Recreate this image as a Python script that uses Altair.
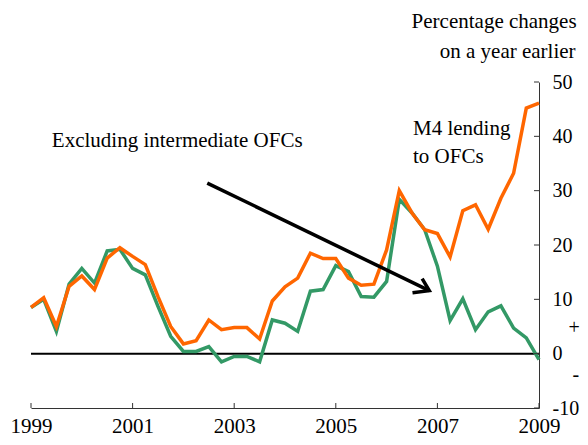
import altair as alt
import pandas as pd

# ---- data (quarterly, 1999 Q1 .. 2009 Q1) ----
start_year = 1999
m4_lending = [8.5, 10.3, 5.0, 12.4, 14.3, 11.8, 17.6, 19.5, 17.9, 16.4,
              10.5, 5.0, 1.8, 2.4, 6.2, 4.4, 4.8, 4.8, 2.7, 9.7,
              12.3, 13.9, 18.5, 17.5, 17.5, 13.9, 12.6, 12.8, 19.1, 30.0,
              25.9, 22.8, 22.1, 17.8, 26.3, 27.4, 22.9, 28.6, 33.2, 45.2, 46.1]
excl_intermediate = [8.5, 10.0, 4.1, 12.8, 15.7, 13.0, 18.9, 19.2, 15.7, 14.5,
                     8.7, 3.2, 0.4, 0.4, 1.3, -1.5, -0.5, -0.5, -1.5, 6.2,
                     5.6, 4.1, 11.5, 11.8, 16.2, 15.1, 10.5, 10.4, 13.3, 28.4,
                     25.9, 22.8, 16.1, 6.1, 10.1, 4.4, 7.7, 8.8, 4.7, 2.9, -1.1]
quarters = [start_year + i / 4 for i in range(len(m4_lending))]

x_ticks = [1999, 2001, 2003, 2005, 2007, 2009]
y_ticks = [-10, 0, 10, 20, 30, 40, 50]

# annotations (positions in data units)
ann_text = ["Excluding intermediate OFCs", "M4 lending", "to OFCs"]
ann_x = [1999.41, 2006.52, 2006.52]
ann_y = [39.1, 41.4, 36.2]

title_text = ["Percentage changes", "on a year earlier"]
title_x = [2009.74, 2009.72]
title_y = [61.0, 55.5]

stray_text = ["+", "-"]
stray_x = [2009.58, 2009.66]
stray_y = [4.7, -3.9]

arrow_x = [2002.47, 2006.84]
arrow_y = [31.4, 11.6]
head_x = [2006.51, 2006.84, 2006.70]
head_y = [11.2, 11.6, 13.8]

FONT = "Liberation Serif"

df_orange = pd.DataFrame({"x": quarters, "y": m4_lending})
df_green = pd.DataFrame({"x": quarters, "y": excl_intermediate})

xscale = alt.Scale(domain=[1999, 2009], nice=False, zero=False)
yscale = alt.Scale(domain=[-10, 50], nice=False, zero=False)
xaxis = alt.Axis(values=x_ticks, format="d", title=None, grid=False, ticks=False,
                 domainColor="#333", domainWidth=1, labelFont=FONT, labelFontSize=21,
                 labelColor="#000", labelPadding=7, labelFlush=False)
yaxis = alt.Axis(values=y_ticks, title=None, grid=False, ticks=False,
                 labelExpr="datum.value < 0 ? '-' + abs(datum.value) : '' + datum.value",
                 orient="right", domainColor="#333", domainWidth=1, labelFont=FONT,
                 labelFontSize=20, labelColor="#000", labelPadding=13, labelAlign="left")
X = alt.X("x:Q", scale=xscale, axis=xaxis)
Y = alt.Y("y:Q", scale=yscale, axis=yaxis)

zero = alt.Chart(pd.DataFrame({"x": [1999], "x2": [2009], "y": [0]})).mark_rule(
    color="#000", strokeWidth=2).encode(x=X, x2="x2:Q", y=Y)

green = alt.Chart(df_green).mark_line(color="#339966", strokeWidth=3.5).encode(x=X, y=Y)
orange = alt.Chart(df_orange).mark_line(color="#FF6600", strokeWidth=3.5).encode(x=X, y=Y)

xt = alt.Chart(pd.DataFrame({"x": x_ticks, "y": [-10] * len(x_ticks)})).mark_rule(
    color="#333", strokeWidth=1, y2Offset=-5).encode(x=X, y=Y, y2="y:Q")
yt = alt.Chart(pd.DataFrame({"y": y_ticks, "x": [2009] * len(y_ticks)})).mark_rule(
    color="#333", strokeWidth=1, x2Offset=-5).encode(y=Y, x=X, x2="x:Q")

arrow = alt.Chart(pd.DataFrame({"x": arrow_x, "y": arrow_y, "o": [0, 1]})).mark_line(
    color="#000", strokeWidth=3.5).encode(x=X, y=Y, order="o:O")
head = alt.Chart(pd.DataFrame({"x": head_x, "y": head_y, "o": [0, 1, 2]})).mark_line(
    color="#000", strokeWidth=3.5, strokeJoin="miter").encode(x=X, y=Y, order="o:O")

ann = alt.Chart(pd.DataFrame({"x": ann_x, "y": ann_y, "t": ann_text})).mark_text(
    font=FONT, fontSize=21, align="left", baseline="middle", color="#000").encode(
    x=X, y=Y, text="t:N")
ttl = alt.Chart(pd.DataFrame({"x": title_x, "y": title_y, "t": title_text})).mark_text(
    font=FONT, fontSize=21, align="right", baseline="middle", color="#000").encode(
    x=X, y=Y, text="t:N")
stray = alt.Chart(pd.DataFrame({"x": stray_x, "y": stray_y, "t": stray_text})).mark_text(
    font=FONT, fontSize=20, align="left", baseline="middle", color="#000").encode(
    x=X, y=Y, text="t:N")

chart = alt.layer(zero, green, orange, xt, yt, arrow, head, ann, ttl, stray).properties(
    width=508, height=326,
    autosize=alt.AutoSizeParams(type="none"),
    padding={"left": 23, "top": 74, "right": 41, "bottom": 29},
    background="white",
).configure_view(stroke=None)

chart.save("out.html", embed_options={"renderer": "svg", "actions": False})
